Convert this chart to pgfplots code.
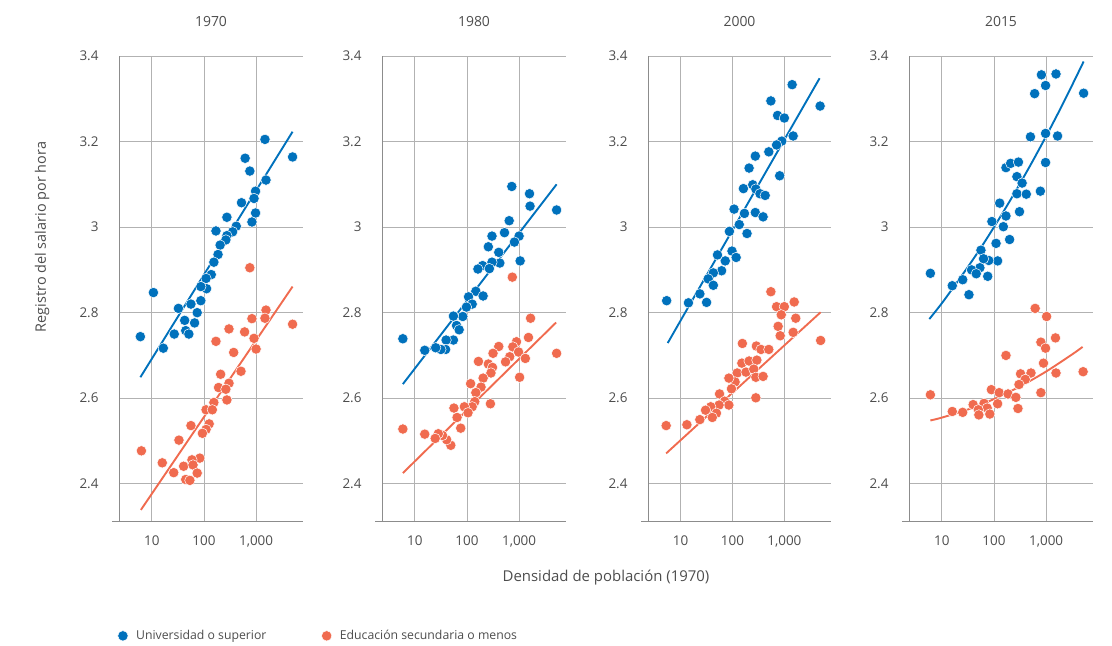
\documentclass[border=0pt]{standalone}
\usepackage{pgfplots}
\pgfplotsset{compat=1.18}
\usepackage{fontspec}
\setmainfont{Open Sans}
\definecolor{blueC}{RGB}{0,113,188}
\definecolor{orangeC}{RGB}{240,107,79}
\definecolor{textgray}{RGB}{77,77,77}
\definecolor{gridgray}{RGB}{178,178,178}
\definecolor{axisgray}{RGB}{140,140,140}
\pgfplotsset{
  panel/.style={
    scale only axis, width=184bp, height=465bp, anchor=south west,
    xmin=0.37, xmax=3.9, ymin=2.313, ymax=3.4,
    axis lines*=left,
    axis line style={draw=axisgray, line width=0.8bp},
    x axis line style={shorten <=-7bp},
    grid=major, grid style={draw=gridgray, line width=0.8bp},
    major tick length=0pt,
    xtick={1,2,3}, xticklabels={10,100,{1,000}},
    ytick={2.4,2.6,2.8,3.0,3.2,3.4}, yticklabels={2.4,2.6,2.8,3,3.2,3.4},
    /pgf/number format/assume math mode=true,
    tick label style={font=\fontsize{13.5}{16}\selectfont, text=textgray},
    xticklabel style={anchor=north, yshift=-11.5bp},
    yticklabel style={anchor=east, xshift=-17bp},
    title style={at={(axis description cs:0.5,1)}, anchor=center, yshift=29bp, font=\fontsize{14}{16}\selectfont, text=textgray},
    clip=false,
  },
  bdot/.style={only marks, mark=*, mark size=5.2bp, mark options={fill=blueC, draw=white, line width=0.5bp}},
  odot/.style={only marks, mark=*, mark size=5.2bp, mark options={fill=orangeC, draw=white, line width=0.5bp}},
  bline/.style={blueC, line width=1.9bp, no marks, forget plot},
  oline/.style={orangeC, line width=1.9bp, no marks, forget plot},
}
\begin{document}
\begin{tikzpicture}
\path (0bp,0bp) rectangle (1112bp,646bp);
% ---------------- 1970 ----------------
\begin{axis}[panel, at={(119bp,125bp)}, title={1970},
  legend style={draw=none, fill=none, at={(axis description cs:-0.008,-0.247)}, anchor=west,
    legend columns=2, font=\fontsize{12.3}{14}\selectfont, text=textgray, inner sep=0pt,
    /tikz/every odd column/.append style={column sep=6bp},
    /tikz/every even column/.append style={column sep=53bp}},
  legend cell align=left]
\addplot[bdot] coordinates {
(3.17,3.205) (2.79,3.161) (3.70,3.164) (2.88,3.131) (3.19,3.110) (2.99,3.084)
(2.96,3.067) (2.72,3.057) (2.44,3.023) (2.99,3.033) (2.92,3.012) (2.62,3.002)
(2.55,2.989) (2.23,2.991) (2.44,2.980) (2.42,2.970) (2.31,2.958) (2.27,2.936)
(2.19,2.918) (2.14,2.889) (2.04,2.880) (2.05,2.856) (1.94,2.861) (1.94,2.828)
(1.87,2.800) (1.75,2.820) (1.82,2.776) (1.63,2.782) (1.51,2.810) (1.03,2.847)
(0.78,2.744) (1.43,2.750) (1.65,2.758) (1.71,2.750) (1.22,2.717)};
\addlegendentry{Universidad o superior}
\addplot[odot] coordinates {
(2.88,2.905) (3.19,2.806) (3.17,2.787) (2.92,2.786) (3.70,2.773) (2.48,2.762)
(2.78,2.755) (2.96,2.740) (2.23,2.733) (3.00,2.715) (2.57,2.707) (2.71,2.663)
(2.32,2.656) (2.28,2.625) (2.48,2.635) (2.42,2.621) (2.44,2.596) (2.19,2.590)
(2.04,2.573) (2.16,2.573) (2.10,2.540) (2.04,2.527) (1.97,2.518) (1.75,2.536)
(1.52,2.502) (0.80,2.477) (1.20,2.449) (1.92,2.460) (1.77,2.456) (1.61,2.441)
(1.79,2.444) (1.42,2.426) (1.87,2.425) (1.65,2.410) (1.73,2.408)};
\addlegendentry{Educación secundaria o menos}
\addplot[bline] coordinates {(0.78,2.649) (3.70,3.223)};
\addplot[oline] coordinates {(0.79,2.339) (3.70,2.861)};
\end{axis}
% ---------------- 1980 ----------------
\begin{axis}[panel, at={(382bp,125bp)}, title={1980}]
\addplot[bdot] coordinates {
(2.86,3.095) (3.20,3.078) (3.21,3.049) (3.72,3.040) (2.81,3.015) (2.72,2.987)
(2.48,2.979) (3.00,2.979) (2.91,2.965) (2.41,2.954) (2.61,2.941) (2.63,2.916)
(2.48,2.918) (3.02,2.921) (2.30,2.910) (2.21,2.902) (2.43,2.903) (2.17,2.850)
(2.31,2.839) (2.03,2.837) (2.10,2.820) (1.99,2.813) (1.92,2.791) (1.74,2.792)
(1.80,2.770) (1.85,2.760) (1.74,2.736) (1.60,2.736) (1.59,2.714) (1.50,2.714)
(1.40,2.718) (1.19,2.712) (0.77,2.739)};
\addplot[odot] coordinates {
(2.87,2.883) (3.22,2.787) (3.18,2.742) (2.95,2.732) (3.72,2.705) (2.88,2.720)
(2.61,2.721) (2.99,2.708) (3.12,2.693) (2.50,2.705) (2.82,2.697) (2.74,2.685)
(2.41,2.680) (2.22,2.686) (2.49,2.672) (2.46,2.659) (3.01,2.649) (2.31,2.647)
(2.27,2.626) (2.07,2.634) (2.17,2.613) (2.15,2.592) (2.10,2.580) (2.45,2.587)
(1.95,2.580) (2.02,2.566) (1.75,2.577) (1.81,2.555) (1.88,2.530) (1.69,2.490)
(1.61,2.503) (1.53,2.513) (1.45,2.517) (1.39,2.506) (1.19,2.516) (0.77,2.528)};
\addplot[bline] coordinates {(0.77,2.633) (3.72,3.100)};
\addplot[oline] coordinates {(0.77,2.425) (3.71,2.777)};
\end{axis}
% ---------------- 2000 ----------------
\begin{axis}[panel, at={(648bp,125bp)}, width=183bp, title={2000}]
\addplot[bdot] coordinates {
(3.15,3.333) (2.74,3.295) (3.69,3.283) (2.87,3.261) (3.00,3.255) (3.17,3.213)
(2.95,3.201) (2.85,3.192) (2.70,3.176) (2.44,3.166) (2.91,3.120) (2.32,3.138)
(2.39,3.099) (2.21,3.090) (2.45,3.089) (2.53,3.078) (2.63,3.074) (2.23,3.032)
(2.44,3.034) (2.59,3.024) (2.03,3.042) (2.13,3.006) (2.28,2.985) (1.94,2.990)
(1.99,2.944) (2.07,2.929) (1.86,2.921) (1.71,2.935) (1.79,2.898) (1.63,2.893)
(1.53,2.879) (1.63,2.864) (1.37,2.844) (1.15,2.823) (1.50,2.824) (0.73,2.828)};
\addplot[odot] coordinates {
(2.74,2.849) (2.85,2.814) (3.00,2.814) (3.19,2.825) (2.94,2.795) (3.22,2.787)
(2.88,2.768) (3.17,2.754) (2.92,2.746) (3.70,2.735) (2.19,2.728) (2.46,2.722)
(2.55,2.714) (2.70,2.714) (2.18,2.682) (2.32,2.687) (2.47,2.689) (2.09,2.659)
(2.26,2.661) (2.41,2.668) (2.45,2.649) (2.59,2.651) (2.05,2.638) (1.93,2.647)
(1.98,2.622) (2.45,2.601) (1.75,2.610) (1.85,2.593) (1.93,2.584) (1.74,2.584)
(1.58,2.580) (1.48,2.572) (1.69,2.565) (1.61,2.555) (1.37,2.550) (1.12,2.538)
(0.72,2.536)};
\addplot[bline] coordinates {(0.75,2.729) (3.68,3.348)};
\addplot[oline] coordinates {(0.72,2.471) (3.70,2.801)};
\end{axis}
% ---------------- 2015 ----------------
\begin{axis}[panel, at={(909bp,125bp)}, title={2015}]
\addplot[bdot] coordinates {
(2.91,3.356) (3.19,3.358) (2.99,3.331) (2.78,3.312) (3.72,3.313) (2.70,3.211)
(2.99,3.219) (3.22,3.213) (2.99,3.151) (2.23,3.139) (2.32,3.149) (2.47,3.152)
(2.44,3.118) (2.54,3.103) (2.44,3.078) (2.62,3.077) (2.89,3.084) (2.49,3.036)
(2.11,3.056) (2.23,3.026) (1.96,3.013) (2.18,3.001) (2.30,2.971) (2.04,2.962)
(2.07,2.921) (1.90,2.922) (1.75,2.946) (1.80,2.926) (1.73,2.905) (1.57,2.900)
(1.66,2.891) (1.88,2.885) (1.40,2.877) (1.20,2.863) (1.52,2.842) (0.78,2.892)};
\addplot[odot] coordinates {
(2.79,2.810) (3.01,2.791) (3.18,2.741) (2.90,2.731) (2.99,2.717) (2.23,2.700)
(2.95,2.682) (3.71,2.662) (3.19,2.659) (2.71,2.659) (2.51,2.657) (2.60,2.644)
(2.48,2.632) (1.95,2.620) (2.90,2.613) (2.10,2.613) (2.27,2.610) (2.42,2.602)
(0.78,2.608) (2.07,2.587) (2.46,2.576) (1.60,2.585) (1.81,2.588) (1.87,2.577)
(1.70,2.573) (1.92,2.563) (1.71,2.561) (1.40,2.567) (1.20,2.569)};
\addplot[bline, smooth] coordinates {
(0.76,2.785) (1.0,2.822) (1.25,2.864) (1.5,2.907) (1.75,2.952) (2.0,3.000)
(2.25,3.050) (2.5,3.102) (2.75,3.156) (3.0,3.2125) (3.25,3.271) (3.5,3.332) (3.72,3.387)};
\addplot[oline, smooth] coordinates {
(0.78,2.548) (1.0,2.5547) (1.5,2.5737) (2.0,2.598) (2.5,2.6276) (3.0,2.6624) (3.5,2.7025) (3.7,2.720)};
\end{axis}
\node[rotate=90, font=\fontsize{14.5}{16}\selectfont, text=textgray] at (42bp,409bp) {Registro del salario por hora};
\node[font=\fontsize{15}{17}\selectfont, text=textgray] at (606bp,68bp) {Densidad de población (1970)};
\end{tikzpicture}
\end{document}
